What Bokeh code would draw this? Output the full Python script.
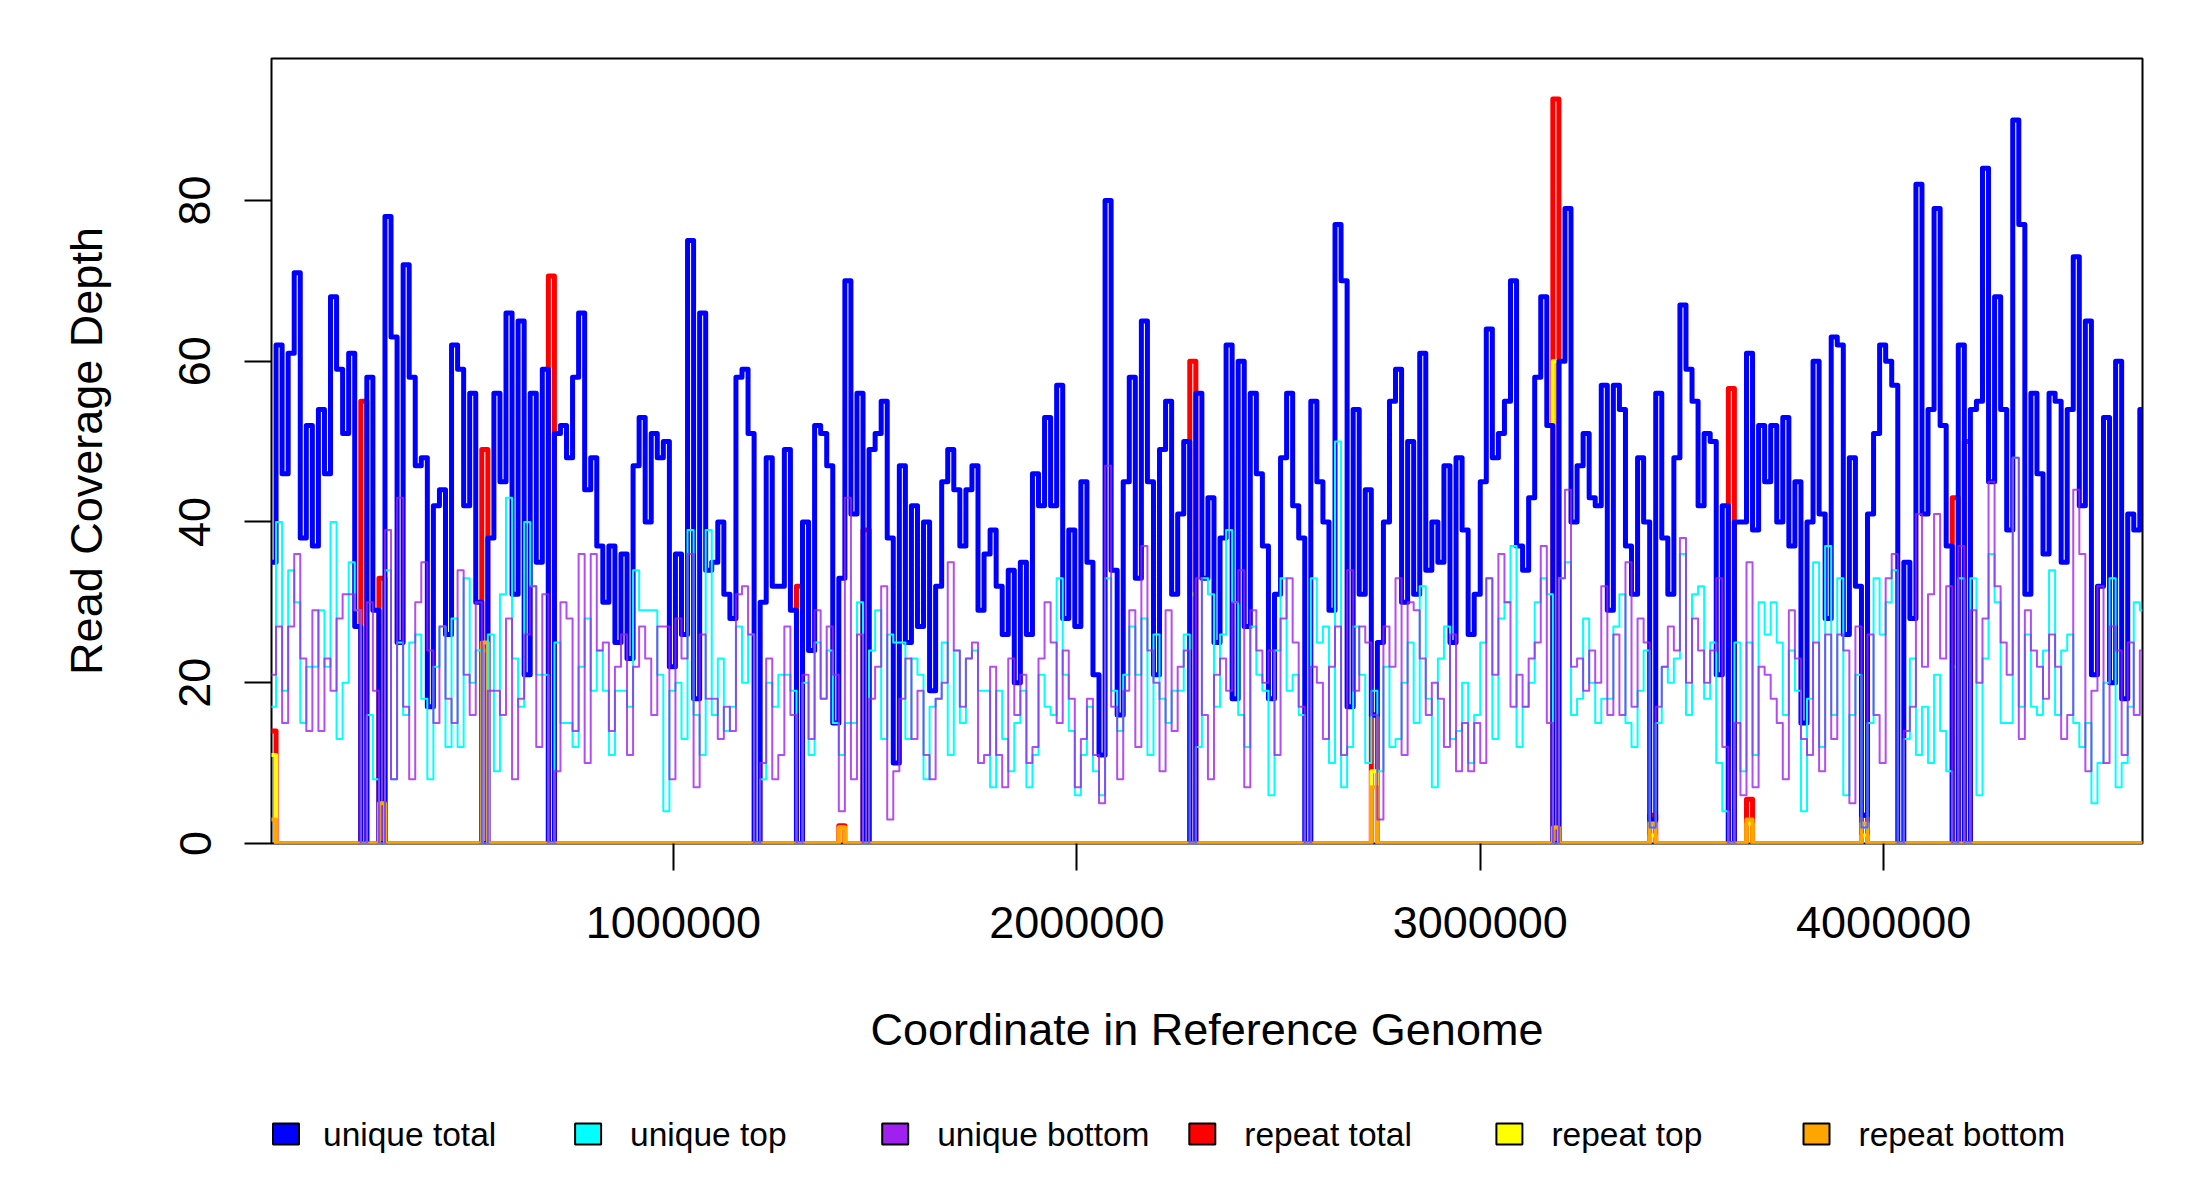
from bokeh.plotting import figure
from bokeh.models import Range1d, FixedTicker
from bokeh.layouts import column
from bokeh.embed import file_html
from bokeh.resources import INLINE
from bokeh.core.properties import value

GENOME_LENGTH = 4641652
BIN_SIZE = 15000

unique_total = [
    35, 62, 46, 61, 71, 38, 52, 37, 54, 46,
    68, 59, 51, 61, 27, 0, 58, 29, 0, 78,
    63, 25, 72, 58, 47, 48, 17, 42, 44, 26,
    62, 59, 42, 56, 30, 0, 38, 56, 45, 66,
    31, 65, 21, 56, 35, 59, 0, 51, 52, 48,
    58, 66, 44, 48, 37, 30, 37, 25, 36, 23,
    47, 53,
    40, 51, 48, 50, 22, 36, 26, 75, 18, 66,
    34, 35, 40, 31, 28, 58, 59, 51, 0, 30,
    48, 32, 32, 49, 29, 0, 40, 24, 52, 51,
    47, 15, 33, 70, 41, 56, 0, 49, 51, 55,
    38, 10, 47, 25, 42, 27, 40, 19, 32, 45,
    49, 44, 37, 44, 47, 29, 36, 39, 32, 26, 34, 20,
    35, 26, 46, 42, 53, 42, 57, 28, 39, 27,
    45, 35, 21, 11, 80, 34, 16, 45, 58, 33,
    65, 45, 21, 49, 55, 31, 41, 50, 0, 56,
    33, 43, 25, 38, 62, 18, 60, 27, 56, 46,
    37, 18, 31, 48, 56, 42, 38, 0, 55, 45,
    40, 29, 77, 70, 17, 54, 31, 44, 16, 25, 40, 55,
    59, 30, 50, 31, 61, 34, 40, 35, 47, 25,
    48, 39, 26, 31, 45, 64, 48, 51, 55, 70,
    37, 34, 43, 58, 68, 52, 0, 60, 79, 40,
    47, 51, 43, 42, 57, 29, 57, 54, 37, 31,
    48, 40, 3, 56, 38, 31, 48, 67, 59, 55,
    42, 51, 50, 21, 42, 0, 40, 40, 61, 39, 52, 45,
    52, 40, 53, 37, 45, 15, 40, 60, 41, 28,
    63, 62, 26, 48, 32, 3.5, 41, 51, 62, 60,
    57, 0, 35, 28, 82, 41, 54, 79, 52, 37,
    0, 62, 0, 54, 55, 84, 45, 68, 54, 39,
    90, 77, 31, 56, 46, 36, 56, 55, 35, 54,
    73, 42, 65, 21, 32, 53, 20, 60, 18, 41, 39, 54,
]

unique_top = [
    17, 40, 19, 34, 30, 15, 22, 22, 29, 22,
    40, 13, 20, 35, 29, 0, 16, 8, 0, 34,
    8, 25, 16, 25, 26, 18, 8, 22, 27, 12,
    28, 12, 33, 20, 24, 0, 26, 9, 31, 43,
    23, 17, 40, 32, 21, 21, 0, 25, 15, 15,
    12, 22, 28, 19, 24, 19, 11, 19, 19, 17,
    34, 29,
    29, 29, 21, 4, 19, 20, 13, 39, 16, 11,
    39, 16, 23, 14, 17, 27, 20, 26, 0, 8,
    20, 17, 21, 21, 19, 0, 20, 11, 25, 18,
    24, 15, 11, 15, 15, 30, 0, 24, 29, 13,
    26, 25, 25, 13, 23, 21, 8, 17, 18, 25,
    11, 24, 15, 23, 24, 19, 19, 7, 19, 13, 9, 15,
    19, 7, 11, 21, 17, 16, 33, 21, 14, 6,
    11, 17, 9, 6, 33, 19, 14, 21, 27, 21,
    28, 11, 26, 18, 15, 19, 19, 26, 0, 12,
    33, 31, 17, 26, 39, 30, 16, 12, 27, 21,
    19, 6, 24, 33, 19, 21, 16, 0, 33, 25,
    27, 10, 50, 7, 12, 27, 21, 10, 19, 9, 22, 12,
    13, 20, 25, 15, 32, 18, 7, 23, 27, 13,
    14, 20, 10, 16, 25, 33, 13, 28, 30, 37,
    12, 17, 20, 30, 33, 31, 0, 33, 35, 16,
    18, 28, 20, 15, 18, 18, 27, 31, 15, 12,
    19, 24, 2, 15, 22, 20, 23, 36, 16, 31,
    32, 18, 25, 10, 4, 0, 25, 9, 25, 11, 30, 26,
    30, 25, 16, 24, 19, 4, 18, 35, 12, 37,
    16, 33, 6, 16, 21, 2, 15, 33, 26, 30,
    34, 0, 13, 23, 11, 17, 10, 21, 14, 9,
    0, 33, 0, 33, 6, 23, 36, 30, 15, 15,
    48, 17, 26, 17, 16, 24, 34, 16, 24, 26,
    15, 12, 15, 5, 10, 20, 33, 7, 10, 17, 30, 29,
]

unique_bottom = [
    21, 27, 15, 27, 36, 23, 14, 29, 14, 23,
    19, 28, 31, 31, 29, 0, 30, 19, 0, 39,
    8, 43, 17, 8, 30, 35, 24, 15, 27, 18,
    15, 34, 21, 16, 30, 0, 19, 19, 16, 28,
    8, 18, 26, 32, 12, 31, 0, 9, 30, 28,
    14, 36, 10, 36, 24, 25, 14, 22, 26, 11,
    22, 27,
    23, 16, 27, 27, 8, 28, 23, 36, 7, 26,
    18, 18, 13, 17, 14, 31, 32, 26, 0, 10,
    23, 8, 11, 27, 16, 0, 21, 13, 29, 18,
    27, 21, 4, 43, 8, 26, 0, 18, 22, 32,
    3, 9, 18, 23, 13, 19, 11, 8, 18, 20,
    35, 24, 17, 23, 25, 10, 11, 22, 11, 7, 23, 16,
    21, 10, 12, 23, 30, 25, 15, 24, 18, 7,
    13, 18, 11, 5, 47, 17, 8, 19, 29, 12,
    37, 24, 20, 9, 29, 14, 22, 24, 0, 33,
    16, 8, 21, 23, 19, 30, 34, 7, 29, 24,
    20, 24, 11, 28, 33, 25, 17, 0, 22, 20,
    13, 22, 27, 11, 34, 19, 27, 25, 16, 3, 27, 22,
    33, 11, 30, 29, 23, 16, 20, 18, 12, 26,
    9, 15, 9, 15, 10, 33, 21, 36, 30, 17,
    21, 17, 23, 25, 37, 15, 0, 33, 44, 22,
    23, 19, 24, 20, 32, 16, 26, 16, 35, 17,
    28, 25, 2, 17, 22, 27, 24, 38, 20, 28,
    24, 20, 24, 33, 12, 0, 15, 6, 35, 7, 22, 21,
    18, 15, 8, 29, 23, 13, 11, 25, 9, 26,
    13, 26, 24, 5, 27, 2, 26, 16, 10, 33,
    36, 0, 14, 17, 41, 22, 31, 41, 23, 32,
    0, 37, 0, 29, 20, 28, 45, 32, 25, 21,
    48, 13, 29, 24, 22, 18, 26, 22, 13, 16,
    44, 36, 9, 19, 32, 10, 27, 24, 11, 25, 16, 24,
]

# repeat coverage: non-zero only in these windows
repeat_bins = [0, 15, 18, 35, 46, 87, 94, 98, 152, 182, 212, 228, 241, 244, 263, 278, 280]
repeat_total_vals = [14, 55, 33, 49, 70.6, 32, 2.2, 39, 60, 16, 92.6, 3.5, 56.6, 5.5, 3.5, 43, 50]
repeat_top_vals = [11, 0, 0, 24, 0, 0, 2, 0, 31, 9, 60, 1, 0, 2.5, 1, 22, 0]
repeat_bottom_vals = [3, 0, 5, 25, 0, 0, 2, 0, 0, 7, 2, 2.5, 0, 3, 2.5, 0, 0]

x_ticks = [1000000, 2000000, 3000000, 4000000]
y_ticks = [0, 20, 40, 60, 80]

legend_labels = ["unique total", "unique top", "unique bottom",
                 "repeat total", "repeat top", "repeat bottom"]
legend_colors = ["#0000FF", "#00FFFF", "#A020F0", "#FF0000", "#FFFF00", "#FFA500"]

n = len(unique_total)
assert len(unique_top) == n and len(unique_bottom) == n, (n, len(unique_top), len(unique_bottom))


def expand(bins, vals):
    arr = [0.0] * n
    for b, v in zip(bins, vals):
        arr[b] = v
    return arr


repeat_total = expand(repeat_bins, repeat_total_vals)
repeat_top = expand(repeat_bins, repeat_top_vals)
repeat_bottom = expand(repeat_bins, repeat_bottom_vals)

xs = [i * BIN_SIZE for i in range(n)] + [GENOME_LENGTH]


def stepy(v):
    return list(v) + [v[-1]]


FONT = "Liberation Sans"
LEFT, RIGHT, TOP, FRAME_W, FRAME_H, BOTTOM = 271, 50, 58, 1871, 785, 245

p = figure(frame_width=FRAME_W, frame_height=FRAME_H,
           x_range=Range1d(3700, GENOME_LENGTH), y_range=Range1d(0, 97.65),
           output_backend="svg", toolbar_location=None,
           min_border_left=LEFT, min_border_right=RIGHT,
           min_border_top=TOP, min_border_bottom=BOTTOM)
p.grid.visible = False
p.outline_line_color = "black"
p.outline_line_width = 2
p.background_fill_color = "white"
p.border_fill_color = "white"

series = [
    (repeat_total, legend_colors[3], 5.0, 1.0),
    (repeat_top, legend_colors[4], 4.0, 1.0),
    (unique_total, legend_colors[0], 5.0, 1.0),
    (repeat_bottom, legend_colors[5], 4.0, 1.0),
    (unique_top, legend_colors[1], 2.0, 1.0),
    (unique_bottom, legend_colors[2], 2.0, 0.8),
]
for vals, col, lw, al in series:
    p.step(xs, stepy(vals), mode="after", line_color=col, line_width=lw,
           line_alpha=al, line_join="round")

for ax in (p.xaxis[0], p.yaxis[0]):
    ax.axis_line_color = None
    ax.major_tick_in = 0
    ax.major_tick_out = 27
    ax.major_tick_line_width = 2
    ax.major_tick_line_color = "black"
    ax.minor_tick_line_color = None
    ax.major_label_text_font = FONT
    ax.major_label_text_font_size = "45px"
    ax.major_label_text_color = "black"
    ax.axis_label_text_font = FONT
    ax.axis_label_text_font_size = "45px"
    ax.axis_label_text_font_style = "normal"
    ax.axis_label_text_color = "black"

p.xaxis.ticker = FixedTicker(ticks=x_ticks)
p.xaxis.major_label_overrides = {t: str(t) for t in x_ticks}
p.xaxis.major_label_standoff = 36
p.xaxis.axis_label = "Coordinate in Reference Genome"
p.xaxis.axis_label_standoff = 63

p.yaxis.ticker = FixedTicker(ticks=y_ticks)
p.yaxis.major_label_overrides = {t: str(t) for t in y_ticks}
p.yaxis.major_label_orientation = "vertical"
p.yaxis.major_label_standoff = 34
p.yaxis.axis_label = "Read Coverage Depth"
p.yaxis.axis_label_standoff = 65

# legend strip below the plot; its frame is aligned with the main frame,
# so its x range is set to page pixels across that frame
LEG_H = 104
lg = figure(frame_width=FRAME_W, frame_height=LEG_H,
            x_range=Range1d(LEFT, LEFT + FRAME_W), y_range=Range1d(LEG_H, 0),
            output_backend="svg", toolbar_location=None,
            min_border_left=LEFT, min_border_right=RIGHT,
            min_border_top=0, min_border_bottom=0)
lg.axis.visible = False
lg.grid.visible = False
lg.outline_line_color = None

LEG_X0 = 267.5
LEG_STEP = 307.1
BOX_W = 26
TEXT_DX = 55
lefts = [LEG_X0 + k * LEG_STEP for k in range(len(legend_labels))]
box_lefts = [max(l, LEFT + 1.5) for l in lefts]
lg.quad(left=box_lefts, right=[l + BOX_W for l in box_lefts], top=[35] * 6, bottom=[56] * 6,
        fill_color=legend_colors, line_color="black", line_width=2)
lg.text(x=[l + TEXT_DX for l in lefts], y=[45.5] * 6, text=legend_labels,
        text_font=value(FONT), text_font_size="33.5px", text_color="black",
        text_baseline="alphabetic", text_align="left")

layout = column(p, lg, spacing=0)
open("out.html", "w").write(file_html(layout, INLINE))
